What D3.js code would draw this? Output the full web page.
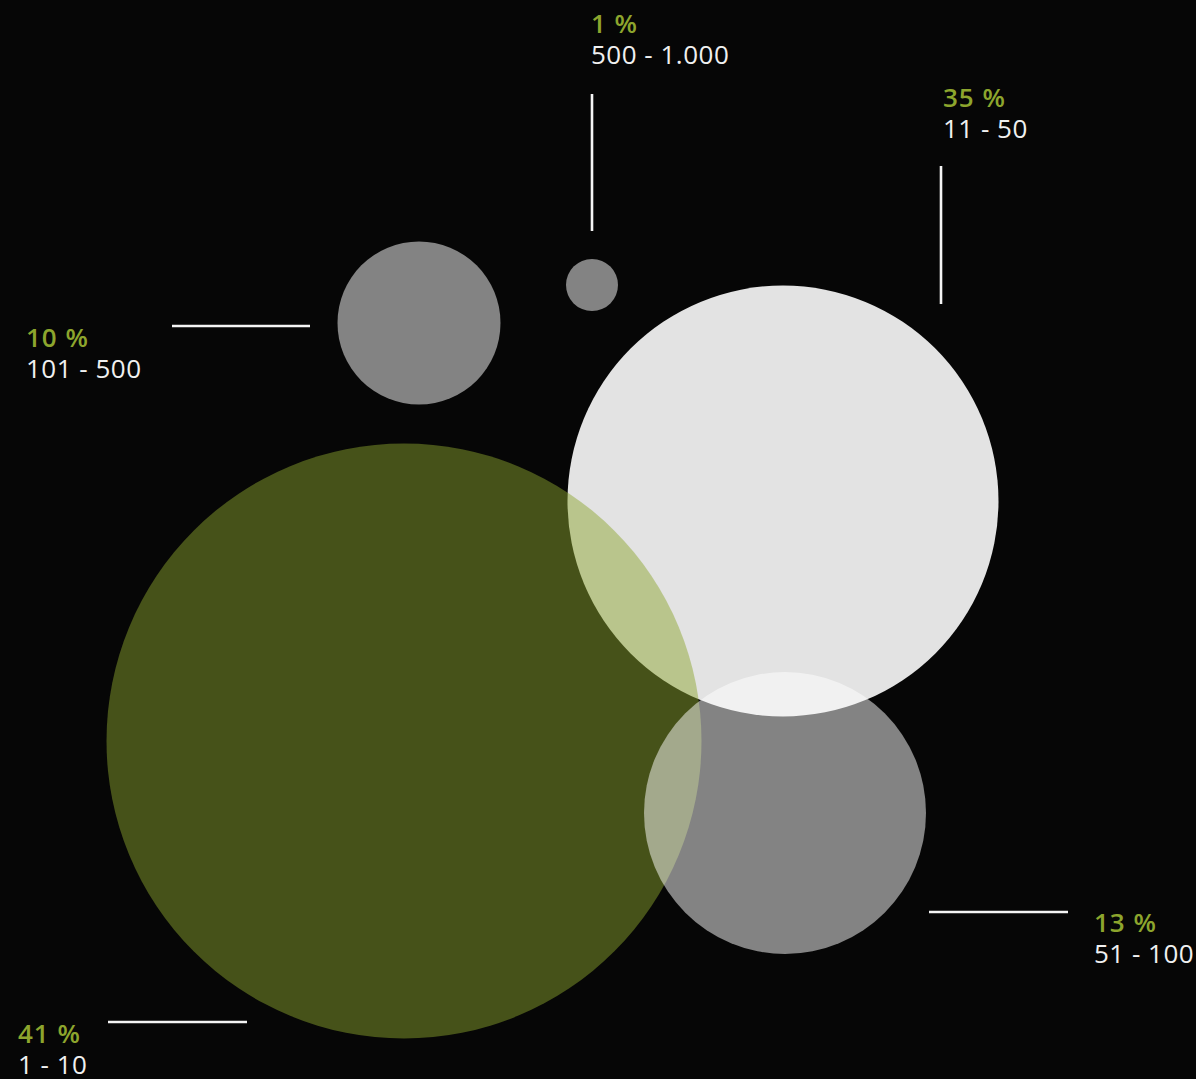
<!DOCTYPE html>
<html lang="de">
<head>
    <meta charset="UTF-8">
    <title>Bubble chart</title>
    <script src="https://d3js.org/d3.v7.min.js"></script>
    <style>
        html, body {
            margin: 0;
            padding: 0;
            background-color: #060606;
            overflow: hidden;
        }
        svg {
            display: block;
        }
        text {
            font-family: "Open Sans", "Noto Sans", sans-serif;
            font-size: 26px;
            letter-spacing: 0.5px;
        }
        .share {
            fill: #8da52d;
            font-weight: 600;
            letter-spacing: 1px;
        }
        .range {
            fill: #f0f0f0;
            font-weight: 400;
        }
        .leader {
            stroke: #f4f4f4;
            stroke-width: 2.6px;
        }
    </style>
</head>
<body>
<svg id="canvas" width="1196" height="1079"></svg>
<script>
    // data
    let ranges = ["1 - 10", "11 - 50", "51 - 100", "101 - 500", "500 - 1.000"]
    let shares = [41, 35, 13, 10, 1]

    // layout (circle centres, label anchors, leader lines)
    let centres = [[404, 741], [783, 501], [785, 813], [419, 323], [592, 285]]
    let labelPos = [[18, 1043], [943, 107], [1094, 932], [26, 347], [591, 33]]
    let leaders = [
        [[108, 1022], [247, 1022]],
        [[941, 166], [941, 304]],
        [[929, 912], [1068, 912]],
        [[172, 326], [310, 326]],
        [[592, 94], [592, 231]]
    ]
    let fills = ["#8da52d", "#ffffff", "#ffffff", "#ffffff", "#ffffff"]
    let opacities = [0.48, 0.89, 0.5, 0.5, 0.5]
    // draw order: white first, then green over it, then the grey ones
    let order = [1, 0, 2, 3, 4]

    let rScale = d3.scaleLinear()
        .domain([1, 10, 13, 35, 41])
        .range([26, 81.5, 141, 215.5, 297.5])

    let rows = order.map(function (i) {
        return {
            range: ranges[i], share: shares[i],
            cx: centres[i][0], cy: centres[i][1],
            fill: fills[i], opacity: opacities[i]
        }
    })

    let svg = d3.select('#canvas')

    svg.append('g')
        .selectAll('circle')
        .data(rows)
        .join('circle')
        .attr('cx', d => d.cx)
        .attr('cy', d => d.cy)
        .attr('r', d => rScale(d.share))
        .attr('fill', d => d.fill)
        .attr('fill-opacity', d => d.opacity)

    svg.append('g')
        .selectAll('line')
        .data(leaders)
        .join('line')
        .attr('class', 'leader')
        .attr('x1', d => d[0][0])
        .attr('y1', d => d[0][1])
        .attr('x2', d => d[1][0])
        .attr('y2', d => d[1][1])

    let labels = svg.append('g')
        .selectAll('g')
        .data(ranges)
        .join('g')
        .attr('transform', (d, i) => 'translate(' + labelPos[i][0] + ',' + labelPos[i][1] + ')')

    labels.append('text')
        .attr('class', 'share')
        .text((d, i) => shares[i] + ' %')

    labels.append('text')
        .attr('class', 'range')
        .attr('y', 31)
        .text(d => d)
</script>
</body>
</html>
